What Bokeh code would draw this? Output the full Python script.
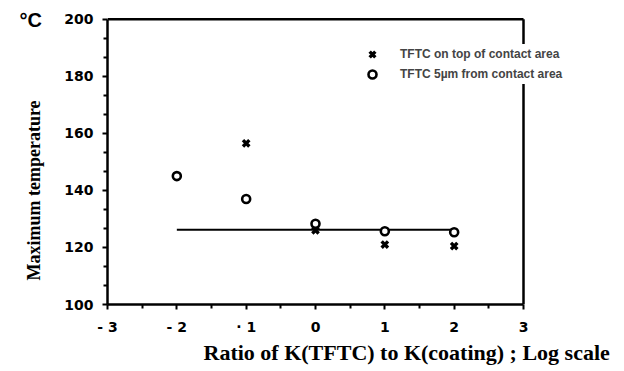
from bokeh.plotting import figure
from bokeh.models import Range1d, FixedTicker, Legend, LegendItem, Title
from bokeh.embed import file_html
from bokeh.resources import INLINE

# log10 of K(TFTC)/K(coating)
x_top = [-1, 0, 1, 2]
t_top = [156.5, 126, 121, 120.5]          # TFTC on top of contact area
x_off = [-2, -1, 0, 1, 2]
t_off = [145, 137, 128.3, 125.7, 125.3]   # TFTC 5 µm from contact area
ref_x = [-2, 2]
ref_t = [126.2, 126.2]

x_ticks = [-3, -2, -1, 0, 1, 2, 3]
x_minor = [-2.5, -1.5, -0.5, 0.5, 1.5, 2.5]
x_tick_labels = {-3: "- 3", -2: "- 2", -1: "· 1", 0: "0", 1: "1", 2: "2", 3: "3"}
y_ticks = [100, 120, 140, 160, 180, 200]

W, H = 624, 371
LEFT, TOP, BOTTOM = 107, 19, 67
AXIS_RIGHT_PX = 523            # where x = 3 sits on the canvas
px_per_unit = (AXIS_RIGHT_PX - LEFT) / (x_ticks[-1] - x_ticks[0])
x_end = x_ticks[-1] + (W - AXIS_RIGHT_PX) / px_per_unit
y_pad = 0.6                    # keeps the top edge of the box inside the frame

p = figure(width=W, height=H, output_backend="svg", toolbar_location=None,
           x_range=Range1d(x_ticks[0], x_end),
           y_range=Range1d(y_ticks[0], y_ticks[-1] + y_pad),
           min_border_left=LEFT, min_border_right=0,
           min_border_top=TOP - 2, min_border_bottom=BOTTOM)
p.xgrid.visible = False
p.ygrid.visible = False
p.outline_line_color = None
p.background_fill_color = "white"
p.border_fill_color = "white"

tick_font = "DejaVu Sans"
sans = "Liberation Sans"
serif = "Liberation Serif"

for ax in (p.xaxis[0], p.yaxis[0]):
    ax.axis_line_width = 2.5
    ax.axis_line_color = "black"
    ax.major_tick_line_width = 2
    ax.minor_tick_line_width = 2
    ax.major_tick_in = 0
    ax.major_tick_out = 5
    ax.minor_tick_in = 0
    ax.minor_tick_out = 4
    ax.major_label_text_font = tick_font
    ax.major_label_text_font_style = "bold"
    ax.major_label_text_font_size = "14px"
    ax.major_label_text_color = "black"

p.xaxis.bounds = (x_ticks[0], x_ticks[-1])
p.xaxis.ticker = FixedTicker(ticks=x_ticks, minor_ticks=x_minor)
p.xaxis.major_label_overrides = x_tick_labels
p.xaxis.major_label_standoff = 9
p.yaxis.bounds = (y_ticks[0], y_ticks[-1])
p.yaxis.ticker = FixedTicker(
    ticks=y_ticks,
    minor_ticks=[b + k * 20 / 3 for b in y_ticks[:-1] for k in (1, 2)])
p.yaxis.major_label_standoff = 9

# box: top edge and right edge at the axis limits
p.segment(x0=[x_ticks[0], x_ticks[-1]], y0=[y_ticks[-1], y_ticks[0]],
          x1=[x_ticks[-1], x_ticks[-1]], y1=[y_ticks[-1], y_ticks[-1]],
          line_color="black", line_width=2.5)

# reference level
p.line(ref_x, ref_t, line_color="black", line_width=2.2)

r_top = p.scatter(x_top, t_top, marker="x", size=9, line_color="black", line_width=3.4)
r_off = p.scatter(x_off, t_off, marker="circle", size=8, fill_color="white",
                  line_color="black", line_width=2.6)

legend = Legend(items=[
    LegendItem(label="TFTC on top of contact area", renderers=[r_top]),
    LegendItem(label="TFTC 5µm from contact area", renderers=[r_off]),
], location=(255, 220))
legend.label_text_font = sans
legend.label_text_font_style = "bold"
legend.label_text_font_size = "12px"
legend.border_line_color = None
legend.background_fill_color = "white"
legend.background_fill_alpha = 1.0
legend.glyph_width = 20
legend.label_standoff = 18
legend.spacing = 0
legend.padding = 4
legend.margin = 0
p.add_layout(legend, "center")

# unit at the top of the temperature axis
p.add_layout(Title(text="°C", align="left", offset=-88, standoff=-26,
                   vertical_align="bottom",
                   text_font=sans, text_font_style="bold", text_font_size="20px",
                   text_color="black"), "above")
p.add_layout(Title(text="Maximum temperature", align="left", offset=24, standoff=36,
                   text_font=serif, text_font_style="bold", text_font_size="18px",
                   text_color="black"), "left")
p.add_layout(Title(text="Ratio of K(TFTC) to K(coating) ;  Log scale", align="left",
                   offset=96, standoff=0,
                   text_font=serif, text_font_style="bold", text_font_size="22px",
                   text_color="black"), "below")

open("out.html", "w").write(file_html(p, INLINE))
